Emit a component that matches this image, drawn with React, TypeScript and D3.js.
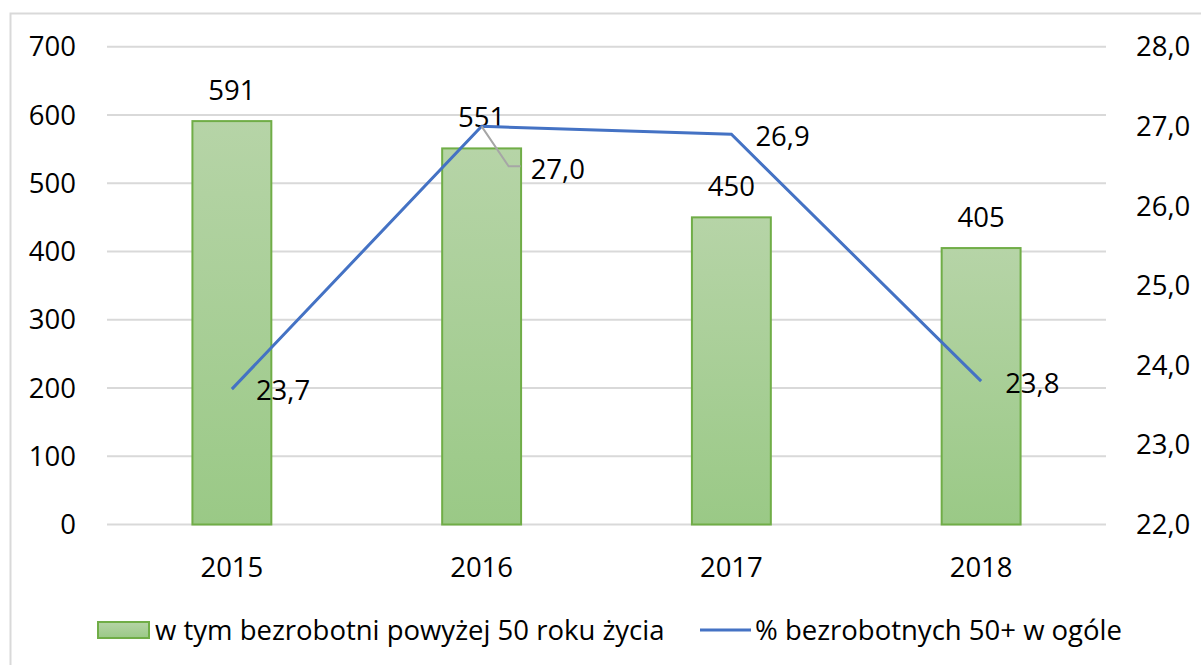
import React from 'react';
import {scaleBand, scaleLinear, line} from 'd3';

const years = ['2015', '2016', '2017', '2018'];
const unemployed50 = [591, 551, 450, 405];
const share50 = [23.7, 27.0, 26.9, 23.8];
const leftTicks = [0, 100, 200, 300, 400, 500, 600, 700];
const rightTicks = [22, 23, 24, 25, 26, 27, 28];
const barName = 'w tym bezrobotni powyżej 50 roku życia';
const lineName = '% bezrobotnych 50+ w ogóle';

const W = 1201;
const H = 665;
const font = '"Open Sans", "Noto Sans", sans-serif';
const fs = 27.5;
const fmt = (v: number) => v.toFixed(1).replace('.', ',');

const App = (): JSX.Element => {
    const x = scaleBand<string>().domain(years).range([107, 1106]).paddingInner(0.684).paddingOuter(0.342);
    const yL = scaleLinear().domain([0, 700]).range([524.5, 46.7]);
    const yR = scaleLinear().domain([22, 28]).range([524.5, 46.7]);
    const cx = (i: number) => (x(years[i]) as number) + x.bandwidth() / 2;

    const pct = line<number>()
        .x((d, i) => cx(i))
        .y((d) => yR(d));

    // label offsets for the line values, 2016 is pushed aside with a leader line
    const lineLabelDx = [24, 49, 24, 24];
    const lineLabelDy = [1, 43, 2, 2];

    return (
        <svg width={W} height={H} viewBox={`0 0 ${W} ${H}`} style={{position: 'absolute', left: 0, top: 0}}>
            <defs>
                <linearGradient id="barFill" x1="0" y1="0" x2="0" y2="1">
                    <stop offset="0" stopColor="#b6d4a7" />
                    <stop offset="1" stopColor="#9ac986" />
                </linearGradient>
            </defs>
            <rect x={0} y={0} width={W} height={H} fill="#fff" />
            <rect x={10.5} y={13.5} width={W + 10} height={H + 10} fill="none" stroke="#d9d9d9" strokeWidth={2} />

            {leftTicks.map((t) => (
                <g key={t}>
                    <line x1={107} x2={1106} y1={yL(t)} y2={yL(t)} stroke="#d9d9d9" strokeWidth={2} />
                    <text x={76} y={yL(t)} dy="0.35em" textAnchor="end" fontFamily={font} fontSize={fs} fill="#000">{t}</text>
                </g>
            ))}
            {rightTicks.map((t) => (
                <text key={t} x={1136} y={yR(t)} dy="0.35em" fontFamily={font} fontSize={fs} fill="#000">{fmt(t)}</text>
            ))}

            {unemployed50.map((v, i) => (
                <g key={years[i]}>
                    <rect x={x(years[i])} y={yL(v)} width={x.bandwidth()} height={yL(0) - yL(v)}
                          fill="url(#barFill)" stroke="#70ad47" strokeWidth={2} />
                    <text x={cx(i)} y={yL(v) - 21} textAnchor="middle" fontFamily={font} fontSize={fs} fill="#000">{v}</text>
                </g>
            ))}

            {years.map((yr, i) => (
                <text key={yr} x={cx(i)} y={567} dy="0.35em" textAnchor="middle" fontFamily={font} fontSize={fs} fill="#000">{yr}</text>
            ))}

            <path d={pct(share50) as string} fill="none" stroke="#4472c4" strokeWidth={3} />
            <polyline points={`${cx(1)},${yR(share50[1])} ${cx(1) + 27},${yR(share50[1]) + 40} ${cx(1) + 39},${yR(share50[1]) + 40}`}
                      fill="none" stroke="#a6a6a6" strokeWidth={2} />
            {share50.map((v, i) => (
                <text key={i} x={cx(i) + lineLabelDx[i]} y={yR(v) + lineLabelDy[i]} dy="0.35em"
                      fontFamily={font} fontSize={fs} fill="#000">{fmt(v)}</text>
            ))}

            <rect x={98} y={622} width={51} height={16} fill="url(#barFill)" stroke="#70ad47" strokeWidth={2} />
            <text x={155} y={630} dy="0.35em" fontFamily={font} fontSize={fs} fill="#000">{barName}</text>
            <line x1={700} x2={751} y1={630} y2={630} stroke="#4472c4" strokeWidth={3} />
            <text x={755} y={630} dy="0.35em" fontFamily={font} fontSize={fs} fill="#000">{lineName}</text>
        </svg>
    );
};

export default App;
